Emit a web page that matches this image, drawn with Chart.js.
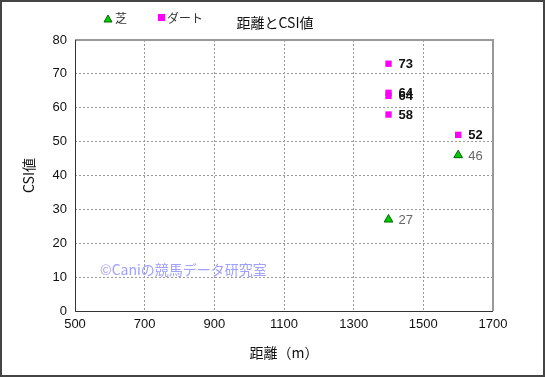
<!DOCTYPE html>
<html>
<head>
<meta charset="utf-8">
<script src="https://cdn.jsdelivr.net/npm/chart.js@4"></script>
<style>
    html, body { margin: 0; padding: 0; background: #fff; }
    #wrap { position: relative; width: 545px; height: 377px; box-sizing: border-box; border: 2px solid #444; }
    canvas { display: block; }
</style>
</head>
<body>
<div id="wrap"><canvas id="chart" width="541" height="373"></canvas></div>
<script>
// data
const turfDistance = [1400, 1600];
const turfCsi = [27, 46];
const dirtDistance = [1400, 1400, 1400, 1400, 1600];
const dirtCsi = [73, 64.4, 63.5, 58, 52];
const xTicks = [500, 700, 900, 1100, 1300, 1500, 1700];
const yTicks = [0, 10, 20, 30, 40, 50, 60, 70, 80];

const FONT = "'Liberation Sans', 'Noto Sans CJK JP', sans-serif";
const JP_FONT = "'Noto Sans CJK JP', sans-serif";

const toPoints = (xs, ys) => xs.map((x, i) => ({ x, y: ys[i] }));

// value labels next to each point
const labelPlugin = {
    id: "labels",
    afterDatasetsDraw(chart) {
        const ctx = chart.ctx;
        ctx.save();
        ctx.textBaseline = "middle";
        ctx.textAlign = "left";
        chart.data.datasets.forEach((ds, di) => {
            const meta = chart.getDatasetMeta(di);
            meta.data.forEach((pt, i) => {
                ctx.font = (di === 1 ? "bold " : "") + "13px " + FONT;
                ctx.fillStyle = di === 1 ? "#111" : "#666";
                ctx.fillText(String(Math.round(ds.data[i].y)), pt.x + 10, pt.y + 1);
            });
        });
        ctx.restore();
    }
};

// plot frame: dark left/bottom, grey top/right
const framePlugin = {
    id: "frame",
    afterDatasetsDraw(chart) {
        const { ctx, chartArea: a } = chart;
        ctx.save();
        ctx.lineWidth = 2;
        ctx.strokeStyle = "#999";
        ctx.beginPath();
        ctx.moveTo(a.left, a.top);
        ctx.lineTo(a.right, a.top);
        ctx.lineTo(a.right, a.bottom);
        ctx.stroke();
        ctx.lineWidth = 1;
        ctx.strokeStyle = "#333";
        ctx.beginPath();
        ctx.moveTo(a.left + 0.5, a.top);
        ctx.lineTo(a.left + 0.5, a.bottom + 0.5);
        ctx.lineTo(a.right, a.bottom + 0.5);
        ctx.stroke();
        ctx.restore();
    }
};

// title, legend and watermark
const headerPlugin = {
    id: "header",
    afterDraw(chart) {
        const ctx = chart.ctx;
        ctx.save();
        ctx.textBaseline = "middle";
        // legend: triangle
        ctx.fillStyle = "#00cc00";
        ctx.strokeStyle = "#006600";
        ctx.beginPath();
        ctx.moveTo(106, 13);
        ctx.lineTo(110, 20);
        ctx.lineTo(102, 20);
        ctx.closePath();
        ctx.fill();
        ctx.stroke();
        ctx.fillStyle = "#333";
        ctx.font = "12px " + JP_FONT;
        ctx.textAlign = "left";
        ctx.fillText("芝", 113, 16);
        // legend: square
        ctx.fillStyle = "#ff00ff";
        ctx.fillRect(156, 12, 7, 7);
        ctx.fillStyle = "#333";
        ctx.fillText("ダート", 165, 16);
        // title
        ctx.fillStyle = "#111";
        ctx.font = "14px " + JP_FONT;
        ctx.textAlign = "center";
        ctx.fillText("距離とCSI値", 273, 21);
        // watermark
        ctx.fillStyle = "#a0a0ff";
        ctx.font = "14px " + JP_FONT;
        ctx.textAlign = "left";
        ctx.fillText("©Caniの競馬データ研究室", 98, 268);
        ctx.restore();
    }
};

new Chart(document.getElementById("chart"), {
    type: "scatter",
    data: {
        datasets: [
            {
                label: "芝",
                data: toPoints(turfDistance, turfCsi),
                pointStyle: "triangle",
                pointRadius: 5,
                backgroundColor: "#00cc00",
                borderColor: "#006600",
                borderWidth: 1
            },
            {
                label: "ダート",
                data: toPoints(dirtDistance, dirtCsi),
                pointStyle: "rect",
                pointRadius: 4.5,
                backgroundColor: "#ff00ff",
                borderColor: "#ff00ff",
                borderWidth: 0
            }
        ]
    },
    options: {
        responsive: false,
        animation: false,
        layout: { padding: { top: 38, right: 50, left: 0, bottom: 0 } },
        plugins: {
            legend: { display: false },
            tooltip: { enabled: false }
        },
        scales: {
            x: {
                min: 500,
                max: 1700,
                afterBuildTicks: (scale) => { scale.ticks = xTicks.map(v => ({ value: v })); },
                afterFit: (scale) => { scale.height = 64; },
                grid: { color: "#999", drawTicks: false },
                border: { display: false, dash: [2, 2] },
                ticks: { color: "#111", font: { size: 13, family: FONT }, padding: 6, maxRotation: 0, callback: (v) => String(v) },
                title: { display: true, text: "距離（m）", color: "#111", font: { size: 14, family: JP_FONT }, padding: { top: 4, bottom: 14 } }
            },
            y: {
                min: 0,
                max: 80,
                afterBuildTicks: (scale) => { scale.ticks = yTicks.map(v => ({ value: v })); },
                afterFit: (scale) => { scale.width = 73; },
                grid: { color: "#999", drawTicks: false },
                border: { display: false, dash: [2, 2] },
                ticks: { color: "#111", font: { size: 13, family: FONT }, padding: 8 },
                title: { display: true, text: "CSI値", color: "#111", font: { size: 14, family: JP_FONT }, padding: { top: 18, bottom: 4 } }
            }
        }
    },
    plugins: [labelPlugin, framePlugin, headerPlugin]
});
</script>
</body>
</html>
